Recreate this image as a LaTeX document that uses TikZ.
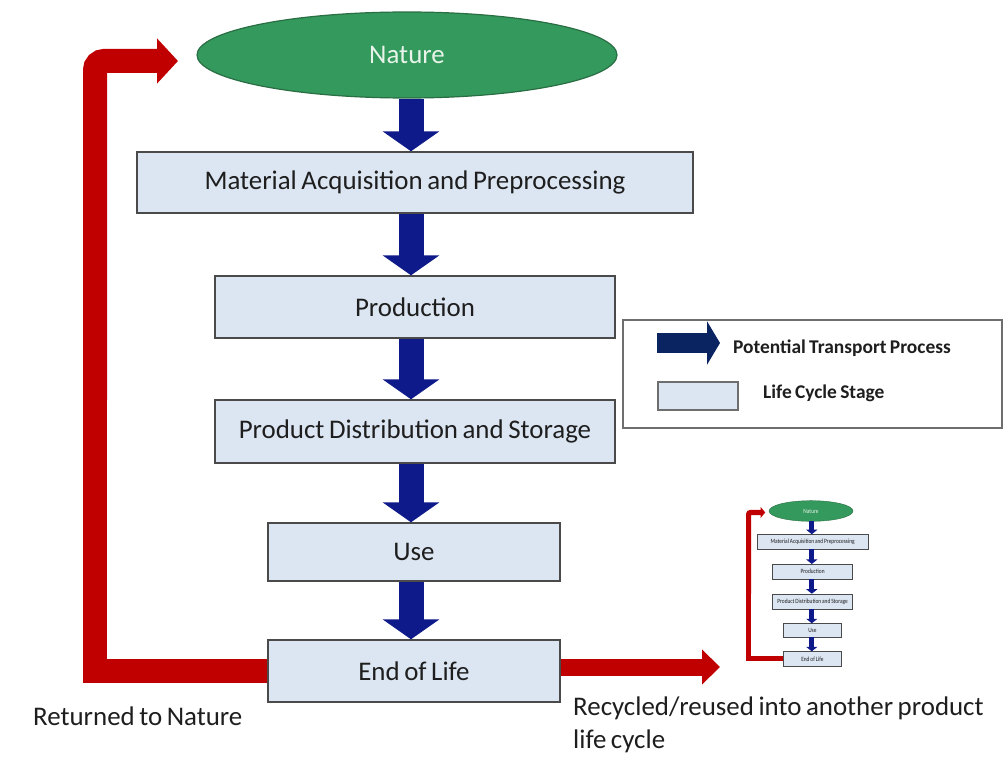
\documentclass[tikz,border=0pt]{standalone}
\usepackage{fontspec}
\setmainfont{Carlito}[WordSpace=0.75]
\usetikzlibrary{arrows.meta,shapes.geometric}
\definecolor{boxfill}{HTML}{DCE6F2}
\definecolor{boxline}{HTML}{4A4A4A}
\definecolor{natfill}{HTML}{34995C}
\definecolor{natline}{HTML}{2A6E44}
\definecolor{nattext}{HTML}{E8F4EA}
\definecolor{navy}{HTML}{0F1A8A}
\definecolor{legnavy}{HTML}{0A2361}
\definecolor{redarr}{HTML}{C00000}
\definecolor{txt}{HTML}{1E1E1E}
\definecolor{leggray}{HTML}{6E6E6E}
\tikzset{
  bigfont/.style={font=\fontsize{27}{33}\selectfont},
  stagebox/.style={draw=boxline, line width=1.4bp, fill=boxfill, inner sep=0pt, text=txt, bigfont},
  naturenode/.style={ellipse, draw=natline, line width=1.2bp, fill=natfill, inner sep=0pt,
    minimum width=420bp, minimum height=86bp, text=nattext, bigfont},
  bluearr/.style={draw=navy, line width=25bp, -{Triangle[width=56bp,length=20bp]}},
  redloop/.style={draw=redarr, line width=24bp},
  redhead/.style={-{Triangle[width=44bp,length=21bp]}},
  redbend/.style={rounded corners=9bp},
  labeltext/.style={text=txt, inner sep=0pt, bigfont},
  legendtext/.style={text=txt, inner sep=0pt, anchor=west, font=\fontsize{19.5}{23}\selectfont\bfseries},
}
\newcommand\lcachart{%
  \coordinate (ax) at (411,0);
  \coordinate (rx) at (95,0);
  \coordinate (rmid) at (95,400);
  \coordinate (rtl) at (95,61);
  \coordinate (rtip) at (178,61);
  \node[naturenode] (nature) at (407,55) {Nature};
  \node[stagebox, minimum width=556bp, minimum height=61bp] (b1) at (415,182.5) {Material Acquisition and Preprocessing};
  \node[stagebox, minimum width=400bp, minimum height=62bp] (b2) at (415,307) {Production};
  \node[stagebox, minimum width=400bp, minimum height=63bp] (b3) at (415,431.5) {Product Distribution and Storage};
  \node[stagebox, minimum width=292bp, minimum height=58bp] (b4) at (414,552) {Use};
  \node[stagebox, minimum width=292bp, minimum height=62bp] (b5) at (414,671) {End of Life};
  \draw[bluearr] (nature.south -| ax) -- (b1.north -| ax);
  \draw[bluearr] (b1.south -| ax) -- (b2.north -| ax);
  \draw[bluearr] (b2.south -| ax) -- (b3.north -| ax);
  \draw[bluearr] (b3.south -| ax) -- (b4.north -| ax);
  \draw[bluearr] (b4.south -| ax) -- (b5.north -| ax);
  \draw[redloop] (b5.west) -- (b5.west -| rx) -- (rmid);
  \draw[redloop, redbend, redhead] (rmid) -- (rtl) -- (rtip);
}
\begin{document}
\begin{tikzpicture}[x=1bp, y=-1bp]
  \fill[white] (0,0) rectangle (1004,760);
  \useasboundingbox (0,0) rectangle (1004,760);

  % main chart
  \lcachart

  % recycled arrow
  \coordinate (rrtip) at (720,667);
  \draw[redloop, line width=17bp, -{Triangle[width=34bp,length=18bp]}] (b5.east |- rrtip) -- (rrtip);

  % labels
  \node[labeltext, anchor=west] (ret) at (33,716) {Returned to Nature};
  \node[labeltext, anchor=north west, align=left] (rec) at (573,697) {Recycled/reused into another product\\life cycle};

  % legend
  \node[draw=leggray, line width=1.4bp, minimum width=379bp, minimum height=108bp, inner sep=0pt] (legend) at (812.5,374) {};
  \coordinate (la0) at (657,343);
  \coordinate (la1) at (720,343);
  \draw[draw=legnavy, line width=20bp, -{Triangle[width=43bp,length=13bp]}] (la0) -- (la1);
  \node[legendtext] (lt1) at (733,348) {Potential Transport Process};
  \node[draw=leggray, fill=boxfill, line width=1.4bp, minimum width=80bp, minimum height=28bp, inner sep=0pt] (lsw) at (698,396) {};
  \node[legendtext] (lt2) at (763,393) {Life Cycle Stage};

  % miniature copy of the chart
  \begin{scope}[name prefix=m-, shift={(729.6,497.8)}, xscale=0.2, yscale=0.24, transform shape,
      stagebox/.append style={line width=0.5bp},
      naturenode/.append style={line width=0.4bp},
      bluearr/.style={draw=navy, line width=5bp, -{Triangle[width=11bp,length=4.5bp]}},
      redloop/.style={draw=redarr, line width=5.2bp},
      redhead/.style={-{Triangle[width=10.5bp,length=4.5bp]}},
      redbend/.style={rounded corners=2bp}]
    \lcachart
  \end{scope}
\end{tikzpicture}
\end{document}
